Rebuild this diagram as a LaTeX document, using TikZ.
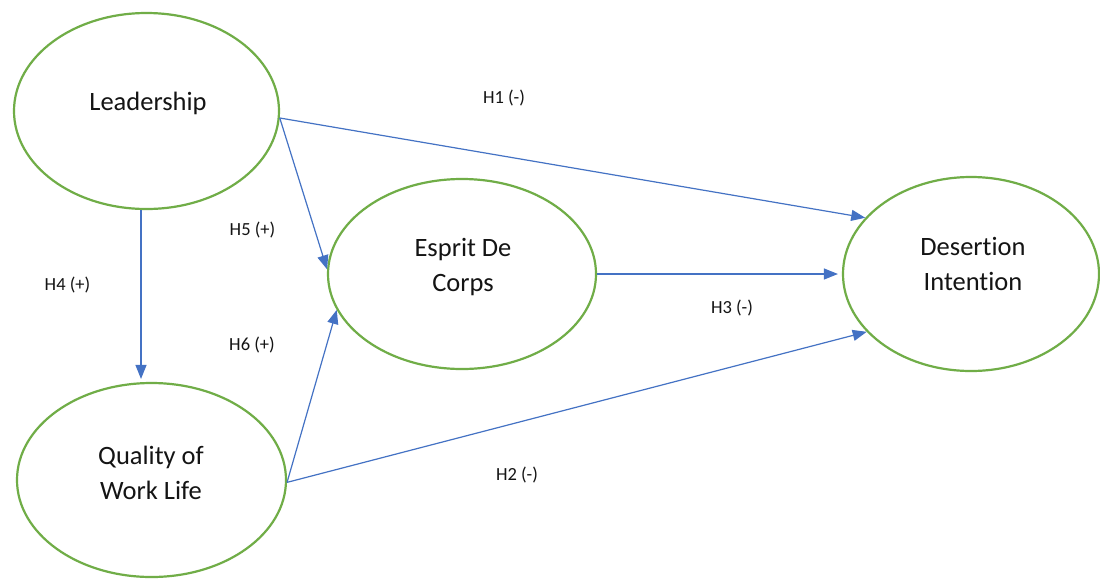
\documentclass[tikz,border=0pt]{standalone}
\usepackage{fontspec}
\setmainfont{Carlito}[Ligatures=NoCommon]
\usetikzlibrary{shapes.geometric,arrows.meta}

\definecolor{ringgreen}{RGB}{112,173,71}
\definecolor{pathblue}{RGB}{68,114,196}
\definecolor{txt}{RGB}{20,20,20}

\tikzset{
  construct/.style={ellipse, draw=ringgreen, line width=2.2pt, fill=white,
    inner sep=0pt},
  ctext/.style={text=txt, align=center, inner sep=0pt,
    font=\fontsize{26.5}{35}\selectfont},
  path arrow/.style={draw=pathblue, line width=1.2pt,
    -{Triangle[length=14pt,width=11pt]}},
  hyp/.style={text=txt, font=\fontsize{18.5}{22}\selectfont, inner sep=0pt}
}

\begin{document}
\begin{tikzpicture}[x=1pt,y=-1pt]
  \useasboundingbox[fill=white] (0,0) rectangle (1100,579);

  % latent constructs
  \node[construct, minimum width=265pt, minimum height=196pt] (lead) at (146.5,111) {};
  \node[ctext] (leadtxt) at (148,103) {Leadership};

  \node[construct, minimum width=269pt, minimum height=194pt] (qual) at (151.5,480) {};
  \node[ctext] (qualtxt) at (151,473) {Quality of\\Work Life};

  \node[construct, minimum width=268pt, minimum height=190pt] (esp) at (462,274) {};
  \node[ctext] (esptxt) at (463,267) {Esprit De\\Corps};

  \node[construct, minimum width=256pt, minimum height=194pt] (des) at (971,274) {};
  \node[ctext] (destxt) at (973,264) {Desertion\\Intention};

  % hypothesised paths
  \draw[path arrow] (lead.-3) -- (des.152);
  \draw[path arrow] (lead.-3) -- (esp.178);
  \draw[path arrow, shorten >=3pt] ([xshift=-5.5pt]lead.south) -- ([xshift=-10.5pt]qual.north);
  \draw[path arrow, shorten >=4pt] (esp.east) -- (des.west);
  \draw[path arrow] (qual.-1) -- (esp.196);
  \draw[path arrow] (qual.-1) -- (des.209);

  % path labels
  \node[hyp] (h1) at (504,98) {H1 (-)};
  \node[hyp] (h5) at (252.5,230) {H5 (+)};
  \node[hyp] (h4) at (67.5,285) {H4 (+)};
  \node[hyp] (h6) at (252,345) {H6 (+)};
  \node[hyp] (h3) at (732,308) {H3 (-)};
  \node[hyp] (h2) at (517,475) {H2 (-)};
\end{tikzpicture}
\end{document}
